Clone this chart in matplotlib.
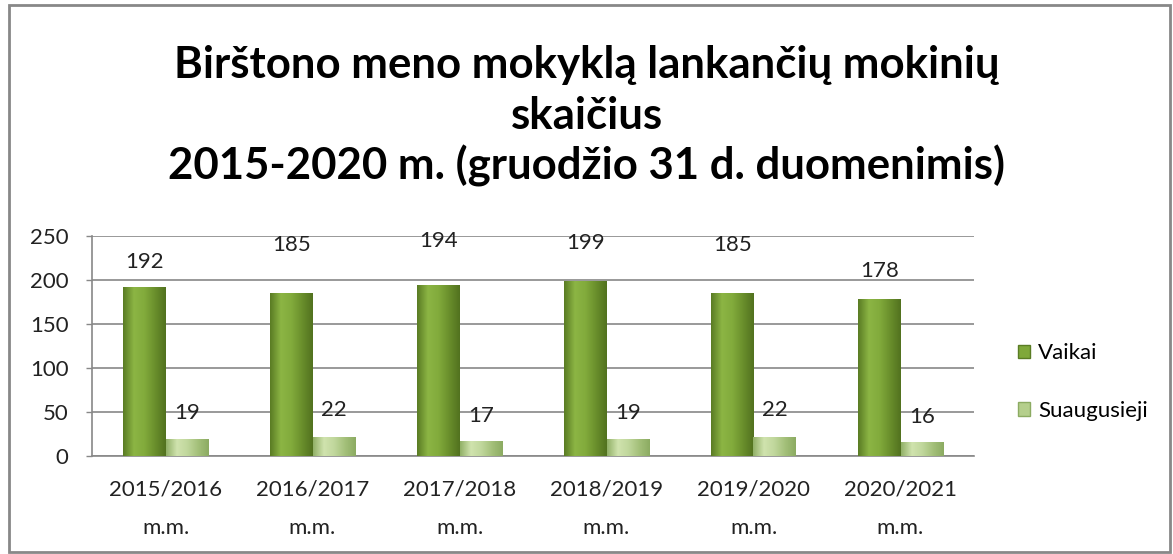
import numpy as np
import matplotlib
matplotlib.use("Agg")
import matplotlib.pyplot as plt
from matplotlib.colors import LinearSegmentedColormap
from matplotlib.patches import Rectangle, Patch

# duomenys
metai = ["2015/2016\nm.m.", "2016/2017\nm.m.", "2017/2018\nm.m.",
         "2018/2019\nm.m.", "2019/2020\nm.m.", "2020/2021\nm.m."]
vaikai = [192, 185, 194, 199, 185, 178]
suaugusieji = [19, 22, 17, 19, 22, 16]

# kiek pikseliu virs stulpelio stovi reiksme (kaip Excel'yje)
vaikai_poslinkis = [25, 48, 44, 38, 48, 28]
suaug_poslinkis = [26, 27, 25, 26, 27, 25]

plt.rcParams["font.family"] = ["Lato", "DejaVu Sans"]

fig = plt.figure(figsize=(11.73, 5.54), dpi=100)
ax = fig.add_axes([92 / 1173, 98 / 554, 882 / 1173, 220 / 554])

x = np.arange(len(metai))
w = 0.29

b1 = ax.bar(x - w / 2, vaikai, w, color="#7fa83a", zorder=3)
b2 = ax.bar(x + w / 2, suaugusieji, w, color="#b5cf8c", zorder=3)

# gradientas stulpeliams
cm_v = LinearSegmentedColormap.from_list("v", ["#5a7c24", "#8cb544", "#82ab3c", "#6a8f2c", "#52721f"])
cm_s = LinearSegmentedColormap.from_list("s", ["#92b168", "#d0e3ae", "#c0d79c", "#a4c07a", "#8cab62"])
grad = np.linspace(0, 1, 64).reshape(1, -1)
for bars, cm in [(b1, cm_v), (b2, cm_s)]:
    for p in bars:
        x0, y0 = p.get_x(), p.get_y()
        im = ax.imshow(grad, cmap=cm, aspect="auto", zorder=4,
                       extent=[x0, x0 + p.get_width(), y0, y0 + p.get_height()])
        im.set_clip_path(p)

# reiksmiu etiketes
for i in range(len(metai)):
    ax.annotate(str(vaikai[i]), (x[i] - w / 2, vaikai[i]),
                xytext=(0, vaikai_poslinkis[i] * 0.72), textcoords="offset points",
                ha="center", va="center", fontsize=16, color="#222222", zorder=5)
    ax.annotate(str(suaugusieji[i]), (x[i] + w / 2, suaugusieji[i]),
                xytext=(0, suaug_poslinkis[i] * 0.72), textcoords="offset points",
                ha="center", va="center", fontsize=16, color="#222222", zorder=5)

ax.set_xlim(-0.5, len(metai) - 0.5)
ax.set_ylim(0, 250)
ax.set_yticks(range(0, 251, 50))
ax.set_xticks(x)
ax.set_xticklabels(metai, fontsize=16, color="#222222", linespacing=2.15)
ax.tick_params(axis="y", labelsize=16, colors="#222222", length=4, width=1, pad=13)
ax.tick_params(axis="y", color="#888888")
ax.tick_params(axis="x", length=0, pad=17)
ax.yaxis.grid(True, color="#888888", linewidth=1.2, zorder=0)
ax.set_axisbelow(True)
for s in ["top", "right"]:
    ax.spines[s].set_visible(False)
for s in ["left", "bottom"]:
    ax.spines[s].set_color("#888888")
    ax.spines[s].set_linewidth(1.2)

# antraste
fig.text(0.5, 1 - 65 / 554, "Birštono meno mokyklą lankančių mokinių",
         ha="center", va="center", fontsize=31.5, fontweight="bold")
fig.text(0.5, 1 - 116 / 554, "skaičius",
         ha="center", va="center", fontsize=31.5, fontweight="bold")
fig.text(0.5, 1 - 166 / 554, "2015-2020 m. (gruodžio 31 d. duomenimis)",
         ha="center", va="center", fontsize=31.5, fontweight="bold")

# legenda
handles = [Patch(facecolor="#7fa83a", edgecolor="#5a7c24"),
           Patch(facecolor="#b5cf8c", edgecolor="#8cab62")]
fig.legend(handles, ["Vaikai", "Suaugusieji"], loc="center left",
           bbox_to_anchor=(998 / 1173, 1 - 382 / 554), frameon=False,
           fontsize=16, handlelength=0.55, handleheight=0.55, handletextpad=0.35,
           labelspacing=1.7)

# remelis aplink
fig.patches.append(Rectangle((9 / 1173, 2 / 554), 1161 / 1173, 547 / 554,
                             transform=fig.transFigure, fill=False,
                             edgecolor="#888888", linewidth=2))

fig.savefig("out.png", dpi=100)
